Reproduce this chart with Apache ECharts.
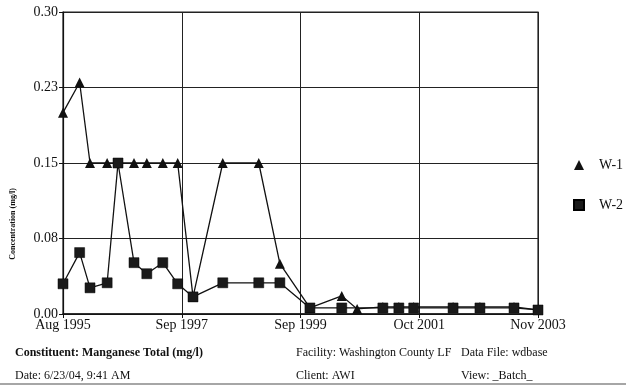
<!DOCTYPE html>
<html>
<head>
<meta charset="utf-8">
<script src="https://cdn.jsdelivr.net/npm/echarts@6/dist/echarts.min.js"></script>
<style>
html,body{margin:0;padding:0;background:#fff;}
#c{width:626px;height:386px;}
</style>
</head>
<body>
<div id="c"></div>
<script>
// ---- data ----
var startDate = '1995-08-01';
var w1Dates = ['1995-08-01','1995-11-15','1996-01-20','1996-05-07','1996-07-15','1996-10-25','1997-01-15','1997-04-25','1997-07-28','1997-11-04','1998-05-10','1998-12-25','1999-05-07','1999-11-15','2000-06-04','2000-09-10','2001-02-21','2001-06-01','2001-09-04','2002-05-10','2002-10-28','2003-06-01','2003-11-01'];
var w1Values = [0.20,0.23,0.15,0.15,0.15,0.15,0.15,0.15,0.15,0.017,0.15,0.15,0.05,0.006,0.018,0.005,0.007,0.007,0.007,0.007,0.007,0.007,0.004];
var w2Dates = ['1995-08-01','1995-11-15','1996-01-20','1996-05-07','1996-07-15','1996-10-25','1997-01-15','1997-04-25','1997-07-28','1997-11-04','1998-05-10','1998-12-25','1999-05-07','1999-11-15','2000-06-04','2001-02-21','2001-06-01','2001-09-04','2002-05-10','2002-10-28','2003-06-01','2003-11-01'];
var w2Values = [0.030,0.061,0.026,0.031,0.15,0.051,0.040,0.051,0.030,0.017,0.031,0.031,0.031,0.006,0.006,0.006,0.006,0.006,0.006,0.006,0.006,0.004];
var xTickLabels = ['Aug 1995','Sep 1997','Sep 1999','Oct 2001','Nov 2003'];
var yTickLabels = ['0.00','0.08','0.15','0.23','0.30'];
var seriesNames = ['W-1','W-2'];

function monthsSince(d){
  var p = d.split('-').map(Number);
  var s = startDate.split('-').map(Number);
  return (p[0]-s[0])*12 + (p[1]-s[1]) + (p[2]-s[2])/30;
}
function pairs(dates, vals){
  return dates.map(function(d,i){ return [monthsSince(d), vals[i]]; });
}

var serif = 'Liberation Serif';
var chart = echarts.init(document.getElementById('c'));
chart.setOption({
  animation:false,
  backgroundColor:'#fff',
  grid:{left:63,right:88,top:12,bottom:72,show:true,borderColor:'#222',borderWidth:1.2},
  xAxis:{
    type:'value',min:0,max:99,interval:24.75,
    axisLine:{lineStyle:{color:'#111',width:1.5}},
    axisTick:{show:true,length:4,lineStyle:{color:'#111'}},
    splitLine:{show:true,lineStyle:{color:'#222',width:1}},
    axisLabel:{color:'#111',fontFamily:serif,fontSize:14,margin:4,
      formatter:function(v){return xTickLabels[Math.round(v/24.75)];}}
  },
  yAxis:{
    type:'value',min:0,max:0.3,interval:0.075,
    axisLine:{show:true,lineStyle:{color:'#111',width:1.2}},
    axisTick:{show:true,length:4,lineStyle:{color:'#111'}},
    splitLine:{show:true,lineStyle:{color:'#222',width:1.2}},
    axisLabel:{color:'#111',fontFamily:serif,fontSize:14,margin:5,
      formatter:function(v){return yTickLabels[Math.round(v/0.075)];}}
  },
  legend:{
    orient:'vertical',left:568,top:153,itemGap:26,itemWidth:10,itemHeight:10,
    textStyle:{color:'#111',fontFamily:serif,fontSize:14,padding:[0,0,0,10]},
    data:[{name:seriesNames[0],icon:'triangle'},{name:seriesNames[1],icon:'rect'}]
  },
  graphic:[
    {type:'text',left:9,top:188,rotation:Math.PI/2,style:{text:'Concentration (mg/l)',fontFamily:serif,fontSize:8,fontWeight:'bold',fill:'#111'}},
    {type:'text',left:15,top:347,style:{text:'Constituent: Manganese Total (mg/l)',fontFamily:serif,fontSize:12,fontWeight:'bold',fill:'#111'}},
    {type:'text',left:15,top:370,style:{text:'Date: 6/23/04, 9:41 AM',fontFamily:serif,fontSize:12,fill:'#111'}},
    {type:'text',left:296,top:347,style:{text:'Facility: Washington County LF',fontFamily:serif,fontSize:12,fill:'#111'}},
    {type:'text',left:296,top:370,style:{text:'Client: AWI',fontFamily:serif,fontSize:12,fill:'#111'}},
    {type:'text',left:461,top:347,style:{text:'Data File: wdbase',fontFamily:serif,fontSize:12,fill:'#111'}},
    {type:'text',left:461,top:370,style:{text:'View: _Batch_',fontFamily:serif,fontSize:12,fill:'#111'}},
    {type:'line',shape:{x1:0,y1:384,x2:626,y2:384},style:{stroke:'#888',lineWidth:1.5}}
  ],
  series:[
    {name:seriesNames[0],type:'line',data:pairs(w1Dates,w1Values),symbol:'triangle',symbolSize:10,
     itemStyle:{color:'#111'},lineStyle:{color:'#111',width:1.3},z:2},
    {name:seriesNames[1],type:'line',data:pairs(w2Dates,w2Values),symbol:'rect',symbolSize:10,
     itemStyle:{color:'#1a1a1a',borderColor:'#000',borderWidth:0.5},lineStyle:{color:'#111',width:1.3},z:3}
  ]
});
</script>
</body>
</html>
